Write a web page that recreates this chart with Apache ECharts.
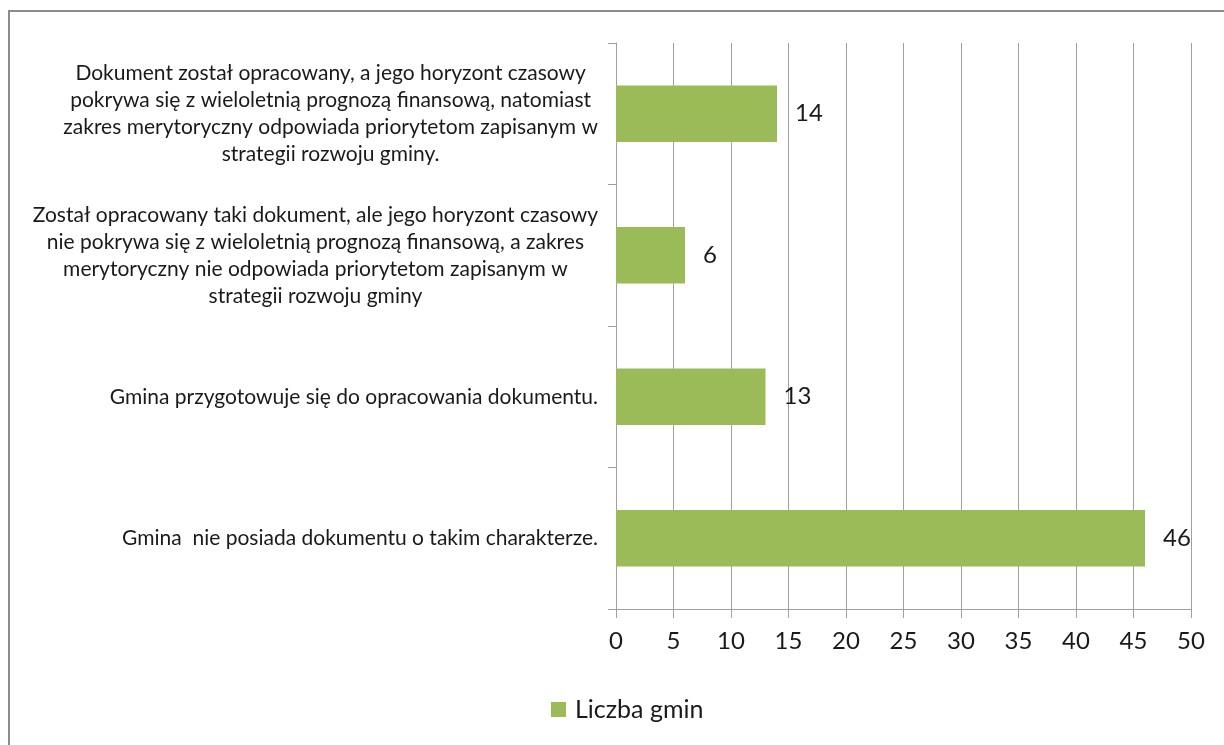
<!DOCTYPE html>
<html>
<head>
<meta charset="utf-8">
<script src="https://cdn.jsdelivr.net/npm/echarts@6/dist/echarts.min.js"></script>
<style>
  html, body { margin: 0; padding: 0; background: #ffffff; }
  #chart { width: 1224px; height: 745px; position: relative; }
  #frame { position: absolute; left: 8px; top: 10px; width: 1300px; height: 800px;
           border-left: 2px solid #8c8c8c; border-top: 2px solid #8c8c8c; pointer-events: none; }
</style>
</head>
<body>
<div id="chart"></div>
<div id="frame"></div>
<script>
// Categories, top to bottom; each entry is a list of wrapped lines
const categories = [
  ['Dokument został opracowany, a jego horyzont czasowy',
   'pokrywa się z wieloletnią prognozą finansową, natomiast',
   'zakres merytoryczny odpowiada priorytetom zapisanym w',
   'strategii rozwoju gminy.'],
  ['Został opracowany taki dokument, ale jego horyzont czasowy',
   'nie pokrywa się z wieloletnią prognozą finansową, a zakres',
   'merytoryczny nie odpowiada priorytetom zapisanym w',
   'strategii rozwoju gminy'],
  ['Gmina przygotowuje się do opracowania dokumentu.'],
  ['Gmina  nie posiada dokumentu o takim charakterze.']
];
const seriesName = 'Liczba gmin';
const values = [14, 6, 13, 46];
const axisMin = 0;
const axisMax = 50;
const axisStep = 5;

const FONT = 'Lato, "Open Sans", sans-serif';
const TEXT = '#1a1a1a';
const GRID = '#a0a0a0';
const BAR = '#9BBB59';

const chart = echarts.init(document.getElementById('chart'), null, { renderer: 'canvas' });

chart.setOption({
  animation: false,
  backgroundColor: '#ffffff',
  grid: { left: 616, right: 33, top: 43, bottom: 136, containLabel: false },
  legend: {
    data: [seriesName],
    left: 546,
    top: 692,
    icon: 'rect',
    itemWidth: 15,
    itemHeight: 15,
    textStyle: { fontFamily: FONT, fontSize: 25, color: TEXT, padding: [0, 0, 0, 4] }
  },
  xAxis: {
    type: 'value',
    min: axisMin,
    max: axisMax,
    interval: axisStep,
    axisLine: { show: true, lineStyle: { color: GRID, width: 1 } },
    axisTick: { show: true, length: 9, lineStyle: { color: GRID } },
    splitLine: { show: true, lineStyle: { color: GRID, width: 1 } },
    axisLabel: { fontFamily: FONT, fontSize: 24, color: TEXT, margin: 20 }
  },
  yAxis: {
    type: 'category',
    inverse: true,
    data: categories.map(lines => lines.join('\n')),
    axisLine: { show: true, lineStyle: { color: GRID, width: 1 } },
    axisTick: { show: true, length: 8, alignWithLabel: false, lineStyle: { color: GRID } },
    axisLabel: {
      margin: 18,
      align: 'right',
      formatter: v => v.split('\n').map(l => '{c|' + l + '}').join('\n'),
      rich: {
        c: { align: 'center', fontFamily: FONT, fontSize: 21, lineHeight: 27, color: TEXT }
      }
    }
  },
  series: [{
    name: seriesName,
    type: 'bar',
    data: values,
    barWidth: '40%',
    itemStyle: { color: BAR },
    label: {
      show: true,
      position: 'right',
      distance: 18,
      fontFamily: FONT,
      fontSize: 24,
      color: TEXT
    }
  }]
});
</script>
</body>
</html>
